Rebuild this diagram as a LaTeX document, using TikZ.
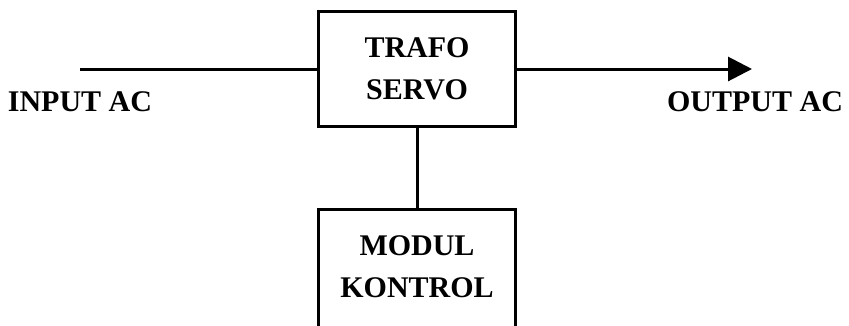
\documentclass[tikz,border=0pt]{standalone}
\usepackage{fontspec}
\setmainfont{Liberation Serif}
\usetikzlibrary{arrows.meta}
\tikzset{
  blok/.style={rectangle, minimum width=197pt, minimum height=115pt, inner sep=0pt,
    align=center, font=\fontsize{30}{42}\selectfont\bfseries},
  label ac/.style={anchor=base, inner sep=0pt, font=\fontsize{30}{34}\selectfont\bfseries},
  wire/.style={line width=3pt}
}
\begin{document}
\begin{tikzpicture}[x=1pt, y=-1pt]
            \path[use as bounding box, clip] (0, 0) rectangle (849, 325);
            \node[blok, draw, line width=3pt] (trafo) at (417, 69) {TRAFO\\SERVO};
            \node[blok] (kontrol) at (417, 267) {MODUL\\KONTROL};
            % kotak bawah terbuka, terpotong di tepi bawah
            \draw[wire] ([yshift=-20pt]kontrol.south west) -- (kontrol.north west)
                -- (kontrol.north east) -- ([yshift=-20pt]kontrol.south east);
            \coordinate (in) at (80, 69);
            \coordinate (out) at (752, 69);
            \node[label ac] (inlabel) at (80, 111) {INPUT AC};
            \node[label ac] (outlabel) at (755, 111) {OUTPUT AC};
            \draw[wire] (in) -- (trafo.west);
            \draw[wire, -{Triangle[length=24pt, width=24pt]}] (trafo.east) -- (out);
            \draw[wire] (trafo.south) -- (kontrol.north);
        \end{tikzpicture}
\end{document}
